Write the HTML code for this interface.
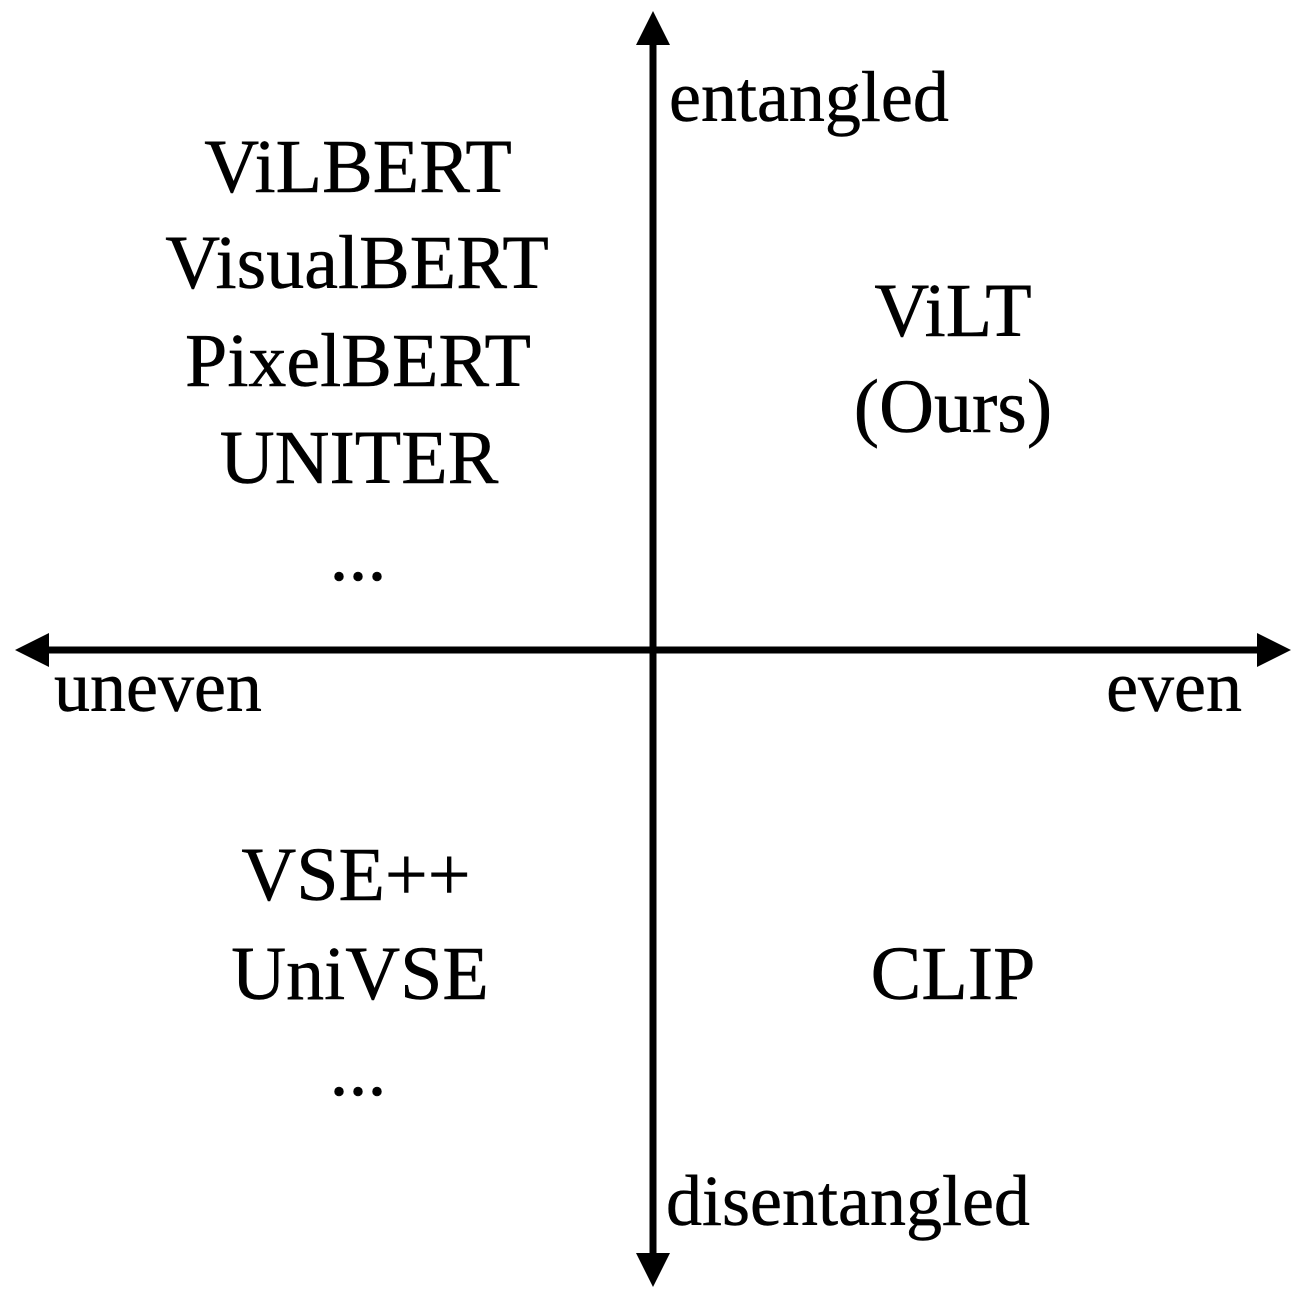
<!DOCTYPE html>
<html><head><meta charset="utf-8"><style>html,body{margin:0;padding:0;background:#fff}svg{display:block}</style></head>
<body>
<svg width="1298" height="1292" viewBox="0 0 1298 1292" xmlns="http://www.w3.org/2000/svg">
<rect width="1298" height="1292" fill="#fff"/>
<line x1="653" y1="40" x2="653" y2="1255" stroke="#000" stroke-width="7"/>
<line x1="45" y1="650" x2="1260" y2="650" stroke="#000" stroke-width="7"/>
<polygon points="653,11 636,45 670,45" fill="#000"/>
<polygon points="653,1287 636,1253 670,1253" fill="#000"/>
<polygon points="15,650 49,633 49,667" fill="#000"/>
<polygon points="1291,650 1257,633 1257,667" fill="#000"/>
<g font-family="Liberation Serif, serif" fill="#000" stroke="#000" stroke-width="0.5">
<g font-size="72">
<text x="669" y="121">entangled</text>
<text x="54" y="711">uneven</text>
<text x="1242" y="711" text-anchor="end">even</text>
<text x="666" y="1225">disentangled</text>
</g>
<g font-size="76" text-anchor="middle">
<text x="358" y="192">ViLBERT</text>
<text x="357" y="288">VisualBERT</text>
<text x="358" y="386">PixelBERT</text>
<text x="359" y="483">UNITER</text>
<text x="358" y="580">...</text>
<text x="953" y="336">ViLT</text>
<text x="953" y="432">(Ours)</text>
<text x="356" y="900">VSE++</text>
<text x="360" y="999">UniVSE</text>
<text x="358" y="1095">...</text>
<text x="953" y="999">CLIP</text>
</g>
</g>
</svg>
</body></html>
